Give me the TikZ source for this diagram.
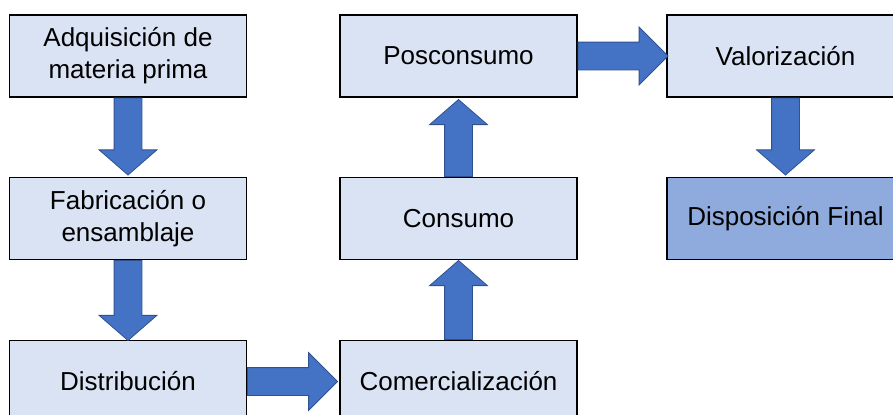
\documentclass[tikz,border=0pt]{standalone}
\usepackage{fontspec}
\setmainfont{Liberation Sans}
\usetikzlibrary{shapes.arrows}
\definecolor{cajaclara}{HTML}{DAE3F3}
\definecolor{cajaoscura}{HTML}{8FAADC}
\definecolor{flecharelleno}{HTML}{4472C4}
\definecolor{flechaborde}{HTML}{2F528F}

\begin{document}
\begin{tikzpicture}[x=0.5pt,y=-0.5pt,
  caja/.style={draw=black, line width=0.6pt, fill=cajaclara, minimum width=118.5pt,
    minimum height=41pt, inner sep=0pt, align=center, font=\fontsize{13}{16}\selectfont},
  flecha/.style={single arrow, draw=flechaborde, line width=0.4pt, fill=flecharelleno,
    inner xsep=0pt, inner ysep=6.75pt, single arrow head extend=7.5pt, anchor=tail},
  corta/.style={minimum height=38.5pt, single arrow tip angle=98},
  larga/.style={minimum height=45pt}]

\clip (0,0) rectangle (893,414);

\node [caja] (adquisicion) at (128,56) {Adquisición de\\materia prima};
\node [caja] (fabricacion) at (128,218.5) {Fabricación o\\ensamblaje};
\node [caja] (distribucion) at (128,381.5) {Distribución};

\node [caja] (comercializacion) at (458.5,381.5) {Comercialización};
\node [caja] (consumo) at (458.5,218.5) {Consumo};
\node [caja] (posconsumo) at (458.5,56) {Posconsumo};

\node [caja] (valorizacion) at (785.5,56) {Valorización};
\node [caja, fill=cajaoscura] (disposicion) at (785.5,218.5) {Disposición Final};

%flechas
\path (adquisicion.south) -- (fabricacion.north) node [flecha, corta, pos=0, rotate=-90] (f1) {};
\path (fabricacion.south) -- (distribucion.north) node [flecha, corta, minimum height=40pt, pos=0, rotate=-90] (f2) {};
\path (distribucion.east) -- (comercializacion.west) node [flecha, larga, pos=0] (f3) {};
\path (comercializacion.north) -- (consumo.south) node [flecha, corta, minimum height=39.5pt, pos=0, rotate=90] (f4) {};
\path (consumo.north) -- (posconsumo.south) node [flecha, corta, pos=0, rotate=90] (f5) {};
\path (posconsumo.east) -- (valorizacion.west) node [flecha, larga, pos=0] (f6) {};
\path (valorizacion.south) -- (disposicion.north) node [flecha, corta, pos=0, rotate=-90] (f7) {};

\end{tikzpicture}
\end{document}
